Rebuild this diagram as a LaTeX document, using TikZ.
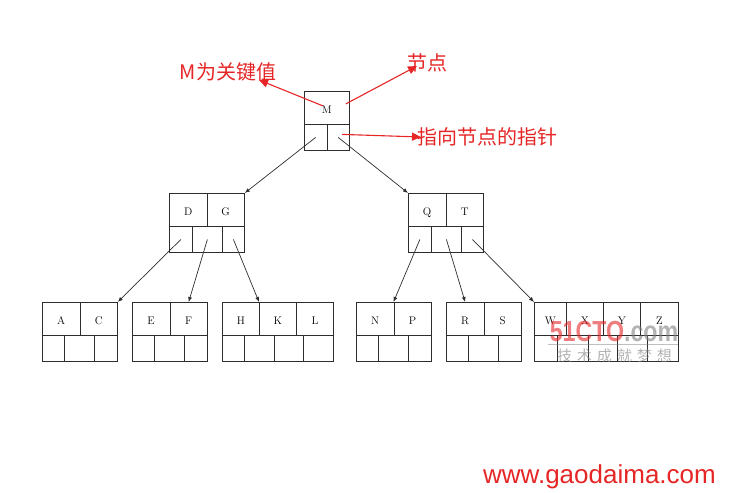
\documentclass[tikz,border=0pt]{standalone}
\usepackage{fontspec}
\newfontfamily\cjk{Noto Sans CJK SC}
\newfontfamily\arial{Liberation Sans}
\usetikzlibrary{arrows.meta}
\definecolor{annot}{RGB}{230,38,38}
\definecolor{boxline}{RGB}{45,45,45}

\begin{document}
\begin{tikzpicture}[x=1pt, y=-1pt,
          > = {Latex[length=5pt,width=4pt]},
  key/.style = {draw=boxline, line width=0.8pt, inner sep=0pt, anchor=north west,
                minimum width=#1, minimum height=33, text height=11.5pt, text depth=0pt,
                font=\fontsize{11}{12}\selectfont},
  ptr/.style = {draw=boxline, line width=0.8pt, inner sep=0pt, anchor=north west,
                minimum width=#1, minimum height=26},
 link/.style = {draw=boxline, line width=0.7pt, ->},
annot/.style = {text=annot, inner sep=0pt, font=\cjk\fontsize{20}{24}\selectfont},
 redarrow/.style = {draw=annot, line width=1.1pt, -{Triangle[length=9pt,width=8pt]}}
                    ]
\useasboundingbox (0,0) rectangle (729,493);
% root
    \node[key=45] (m) at (304,91) {M};
    \node[ptr=22.5] (m1) at (304,124) {};
    \node[ptr=22.5] (m2) at (326.5,124) {};
% second level
    \foreach \k/\x [count=\i] in {D/169,G/206.5} \node[key=37.5] (dg\i) at (\x,193) {\k};
    \foreach \x/\w [count=\i] in {169/23,192/30,222/22} \node[ptr=\w] (dgp\i) at (\x,226) {};
    \foreach \k/\x [count=\i] in {Q/408,T/445.5} \node[key=37.5] (qt\i) at (\x,193) {\k};
    \foreach \x/\w [count=\i] in {408/23,431/30,461/22} \node[ptr=\w] (qtp\i) at (\x,226) {};
% leaves
    \foreach \k/\x [count=\i] in {A/42,C/79.5} \node[key=37.5] (ac\i) at (\x,302) {\k};
    \foreach \x/\w [count=\i] in {42/22,64/30,94/23} \node[ptr=\w] (acp\i) at (\x,335) {};
    \foreach \k/\x [count=\i] in {E/132,F/169.5} \node[key=37.5] (ef\i) at (\x,302) {\k};
    \foreach \x/\w [count=\i] in {132/22,154/30,184/23} \node[ptr=\w] (efp\i) at (\x,335) {};
    \foreach \k/\x [count=\i] in {H/222,K/259,L/296} \node[key=37] (hkl\i) at (\x,302) {\k};
    \foreach \x/\w [count=\i] in {222/22,244/30,274/29,303/30} \node[ptr=\w] (hklp\i) at (\x,335) {};
    \foreach \k/\x [count=\i] in {N/356,P/393.5} \node[key=37.5] (np\i) at (\x,302) {\k};
    \foreach \x/\w [count=\i] in {356/22,378/30,408/23} \node[ptr=\w] (npp\i) at (\x,335) {};
    \foreach \k/\x [count=\i] in {R/446,S/483.5} \node[key=37.5] (rs\i) at (\x,302) {\k};
    \foreach \x/\w [count=\i] in {446/22,468/30,498/23} \node[ptr=\w] (rsp\i) at (\x,335) {};
    \foreach \k/\x/\w [count=\i] in {W/534/32,X/566/37,Y/603/37,Z/640/38} \node[key=\w] (wxyz\i) at (\x,302) {\k};
    \foreach \x/\w [count=\i] in {534/23,557/31,588/29,617/30,647/31} \node[ptr=\w] (wxyzp\i) at (\x,335) {};
% pointers
    \draw[link] (m1.center) -- (dg2.north east);
    \draw[link] (m2.center) -- (qt1.north west);
    \draw[link] (dgp1.center) -- (ac2.north east);
    \draw[link] (dgp2.center) -- (ef2.north);
    \draw[link] (dgp3.center) -- (hkl2.north west);
    \draw[link] (qtp1.center) -- (np2.north west);
    \draw[link] (qtp2.center) -- (rs1.north);
    \draw[link] (qtp3.center) -- (wxyz1.north west);
% notes
    \node[annot] (keytxt) at (228,72) {M为关键值};
    \node[annot] (nodetxt) at (427,63) {节点};
    \node[annot] (ptrtxt) at (487,137) {指向节点的指针};
    \coordinate (keytip) at (259,80);
    \coordinate (nodetip) at (417,66);
    \coordinate (ptrtip) at (421,137);
    \draw[redarrow] ([shift={(-4,-2)}]m.center) -- (keytip);
    \draw[redarrow] ([shift={(-4,-4)}]m.east) -- (nodetip);
    \draw[redarrow] ([shift={(4,-3)}]m2.center) -- (ptrtip);
% watermarks
    \node[font=\arial\bfseries\fontsize{29}{30}\selectfont, xscale=0.8, opacity=0.6,
          inner sep=0pt] (logo) at (614,332) {\textcolor{annot}{51CTO}\textcolor{gray}{.com}};
    \draw[gray, opacity=0.5] (548,344) -- (678,344);
    \node[font=\cjk\fontsize{15}{16}\selectfont, text=gray, opacity=0.6, inner sep=0pt]
          (slogan) at (614.5,356) {技\hspace{5pt}术\hspace{5pt}成\hspace{5pt}就\hspace{5pt}梦\hspace{5pt}想};
    \node[font=\arial\fontsize{26}{28}\selectfont, text=annot, anchor=base, inner sep=0pt]
          (site) at (599.5,483) {www.gaodaima.com};
\end{tikzpicture}
\end{document}
